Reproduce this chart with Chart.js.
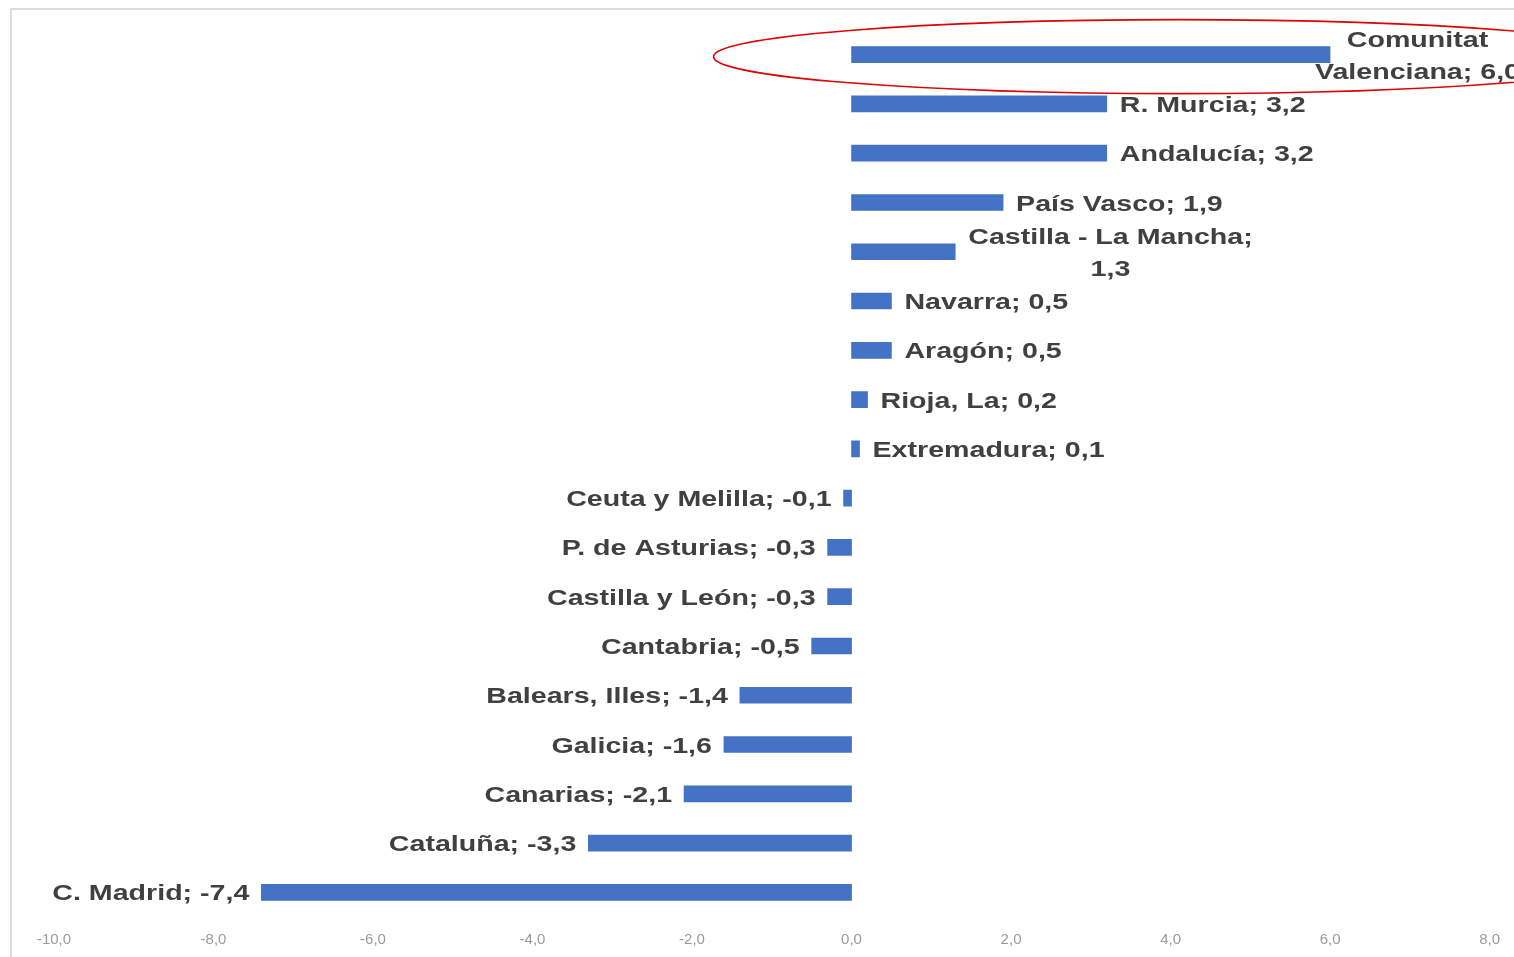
<!DOCTYPE html>
<html>
<head>
<meta charset="utf-8">
<script src="https://cdn.jsdelivr.net/npm/chart.js@4"></script>
<style>
  body { margin: 0; background: #fff; }
  canvas { display: block; }
</style>
</head>
<body>
<canvas id="chart-regions" width="1514" height="957"></canvas>
<script>
// regions, top to bottom; "\n" marks where Excel wrapped the label
const regions = [
  "Comunitat\nValenciana", "R. Murcia", "Andalucía", "País Vasco",
  "Castilla - La Mancha;\n", "Navarra", "Aragón", "Rioja, La", "Extremadura",
  "Ceuta y Melilla", "P. de Asturias", "Castilla y León", "Cantabria",
  "Balears, Illes", "Galicia", "Canarias", "Cataluña", "C. Madrid"
];
const values = [6.0, 3.2, 3.2, 1.9, 1.3, 0.5, 0.5, 0.2, 0.1,
  -0.1, -0.3, -0.3, -0.5, -1.4, -1.6, -2.1, -3.3, -7.4];
const xTicks = [-10, -8, -6, -4, -2, 0, 2, 4, 6, 8];

const fmt = (v) => v.toFixed(1).replace(".", ",");

function labelLines(name, v) {
  if (name.endsWith(";\n")) return [name.slice(0, -1), fmt(v)];
  const parts = name.split("\n");
  parts[parts.length - 1] += "; " + fmt(v);
  return parts;
}

const frame = {
  id: "frame",
  beforeDraw(chart) {
    const c = chart.ctx;
    c.save();
    c.strokeStyle = "#dcdcdc";
    c.lineWidth = 2;
    c.beginPath();
    c.moveTo(11, chart.height);
    c.lineTo(11, 9);
    c.lineTo(chart.width, 9);
    c.stroke();
    c.restore();
  }
};

const dataLabels = {
  id: "dataLabels",
  afterDatasetsDraw(chart) {
    const c = chart.ctx;
    const sx = 1.3, lh = 32;
    const bars = chart.getDatasetMeta(0).data;
    c.save();
    c.font = "bold 22px 'Liberation Sans', Arial, sans-serif";
    c.fillStyle = "#404040";
    c.textBaseline = "middle";
    c.textAlign = "center";
    bars.forEach((bar, i) => {
      const v = values[i];
      const lines = labelLines(regions[i], v);
      const w = Math.max(...lines.map((t) => c.measureText(t).width)) * sx;
      let left = v >= 0 ? bar.x + 13 : bar.x - 12 - w;
      if (left + w > chart.width) left = Math.min(left, chart.width - w + 6);
      const top = bar.y + 2 - (lines.length - 1) * lh / 2;
      lines.forEach((t, k) => {
        c.save();
        c.translate(left + w / 2, top + k * lh);
        c.scale(sx, 1);
        c.fillText(t, 0, 0);
        c.restore();
      });
    });
    c.restore();
  }
};

const circleTop = {
  id: "circleTop",
  afterDraw(chart) {
    const c = chart.ctx;
    const bar = chart.getDatasetMeta(0).data[0];
    const cx = chart.scales.x.getPixelForValue(4.1);
    c.save();
    c.strokeStyle = "#e00000";
    c.lineWidth = 1.6;
    c.beginPath();
    c.ellipse(cx, bar.y + 2, 465, 37, 0, 0, Math.PI * 2);
    c.stroke();
    c.restore();
  }
};

const ctx = document.getElementById("chart-regions").getContext("2d");
const myChart = new Chart(ctx, {
  type: "bar",
  data: {
    labels: regions,
    datasets: [{
      data: values,
      backgroundColor: "#4472C4",
      barThickness: 16,
    }],
  },
  options: {
    indexAxis: "y",
    responsive: false,
    animation: false,
    layout: { padding: { left: 54, right: 20, top: 30, bottom: 0 } },
    plugins: { legend: { display: false }, tooltip: { enabled: false } },
    scales: {
      x: {
        min: xTicks[0],
        max: xTicks[xTicks.length - 1],
        afterBuildTicks: (s) => { s.ticks = xTicks.map((v) => ({ value: v })); },
        afterFit: (s) => { s.height = 40; },
        ticks: {
          callback: (v) => fmt(v),
          color: "#9a9a9a",
          padding: 14,
          maxRotation: 0,
          font: { family: "'Liberation Sans Narrow', 'Liberation Sans', sans-serif", size: 15 },
        },
        grid: { display: false, drawTicks: false },
        border: { display: false },
      },
      y: { display: false },
    },
  },
  plugins: [frame, dataLabels, circleTop],
});
</script>
</body>
</html>
